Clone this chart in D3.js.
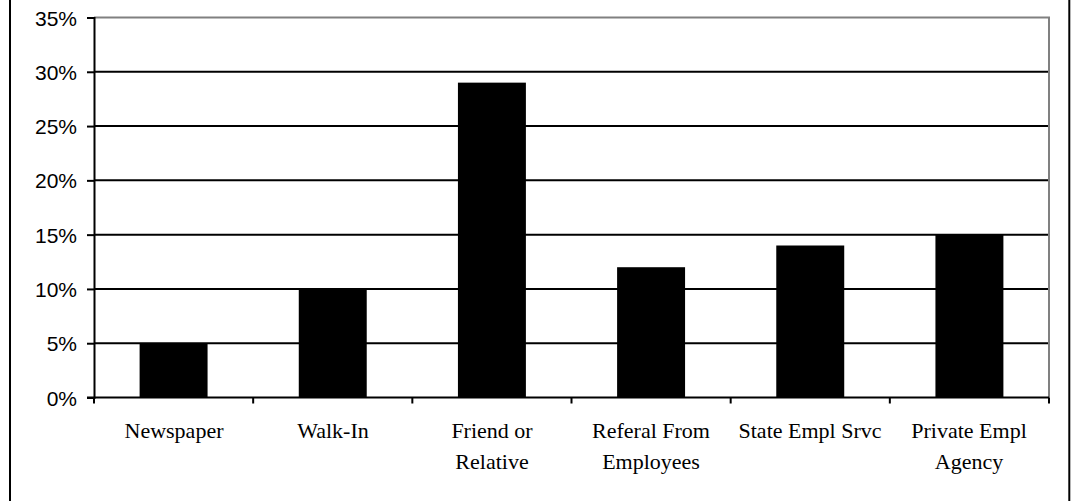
<!DOCTYPE html>
<html>
<head>
<meta charset="utf-8">
<script src="https://cdn.jsdelivr.net/npm/d3@7"></script>
<style>
  html, body { margin: 0; padding: 0; background: #fff; overflow: hidden; }
  svg { display: block; }
</style>
</head>
<body>
<svg id="chart" width="1072" height="501"></svg>
<script>
const categories = ["Newspaper", "Walk-In", "Friend or|Relative", "Referal From|Employees", "State Empl Srvc", "Private Empl|Agency"];
const values = [5, 10, 29, 12, 14, 15];
const yTicks = [0, 5, 10, 15, 20, 25, 30, 35];
const yTickLabels = ["0%", "5%", "10%", "15%", "20%", "25%", "30%", "35%"];

const svg = d3.select("#chart");
const plotLeft = 94, plotRight = 1049, plotTop = 17.5, plotBottom = 397.5;

// outer border
svg.append("rect")
  .attr("x", 10).attr("y", -5)
  .attr("width", 1059.3).attr("height", 512)
  .attr("fill", "none").attr("stroke", "#000").attr("stroke-width", 2);

const pad = 0.573;
const x = d3.scaleBand().domain(categories).range([plotLeft, plotRight])
  .paddingInner(pad).paddingOuter(pad / 2);
const y = d3.scaleLinear().domain([0, 35]).range([plotBottom, plotTop]);

// gridlines
svg.append("g").selectAll("line")
  .data(yTicks.filter(d => d > 0 && d < 35))
  .join("line")
  .attr("x1", plotLeft).attr("x2", plotRight)
  .attr("y1", d => y(d)).attr("y2", d => y(d))
  .attr("stroke", "#000").attr("stroke-width", 2);

// plot frame (top and right gray)
svg.append("path")
  .attr("d", `M${plotLeft},${y(35)}H${plotRight}V${y(0)}`)
  .attr("fill", "none").attr("stroke", "#808080").attr("stroke-width", 2);

// bars
svg.append("g").selectAll("rect")
  .data(values)
  .join("rect")
  .attr("x", (d, i) => x(categories[i]))
  .attr("width", x.bandwidth())
  .attr("y", d => y(d))
  .attr("height", d => y(0) - y(d))
  .attr("fill", "#000");

// y axis
const yAxis = d3.axisLeft(y).tickValues(yTicks).tickSize(7)
  .tickFormat((d, i) => yTickLabels[i]);
const gy = svg.append("g").attr("transform", `translate(${plotLeft},0)`).call(yAxis);
gy.select(".domain").attr("stroke", "#000").attr("stroke-width", 2);
gy.selectAll(".tick line").attr("stroke", "#000").attr("stroke-width", 2);
gy.selectAll(".tick text").remove();
gy.selectAll(".tick").append("text")
  .attr("x", -17).attr("y", 7.5)
  .attr("text-anchor", "end")
  .attr("fill", "#000")
  .attr("font-family", "'Liberation Sans', Arial, sans-serif")
  .attr("font-size", 21)
  .text((d, i) => yTickLabels[i]);

// x axis line and ticks at category boundaries
svg.append("line")
  .attr("x1", plotLeft - 7).attr("x2", plotRight)
  .attr("y1", y(0)).attr("y2", y(0))
  .attr("stroke", "#000").attr("stroke-width", 2);
const step = x.step();
const boundaries = d3.range(categories.length + 1).map(i => plotLeft + i * step);
svg.append("g").selectAll("line")
  .data(boundaries)
  .join("line")
  .attr("x1", d => d).attr("x2", d => d)
  .attr("y1", y(0)).attr("y2", y(0) + 6)
  .attr("stroke", "#000").attr("stroke-width", 2);

// x labels (one text element per line)
const lab = svg.append("g").selectAll("g")
  .data(categories)
  .join("g")
  .attr("transform", d => `translate(${Math.round(x(d) + x.bandwidth() / 2)},438)`);
lab.each(function(d) {
  d3.select(this).selectAll("text")
    .data(d.split("|"))
    .join("text")
    .attr("font-family", "'Times New Roman', 'Liberation Serif', serif")
    .attr("font-size", 22)
    .attr("text-anchor", "middle")
    .attr("fill", "#000")
    .attr("x", 0)
    .attr("y", (ln, i) => i * 31)
    .text(ln => ln);
});
</script>
</body>
</html>
